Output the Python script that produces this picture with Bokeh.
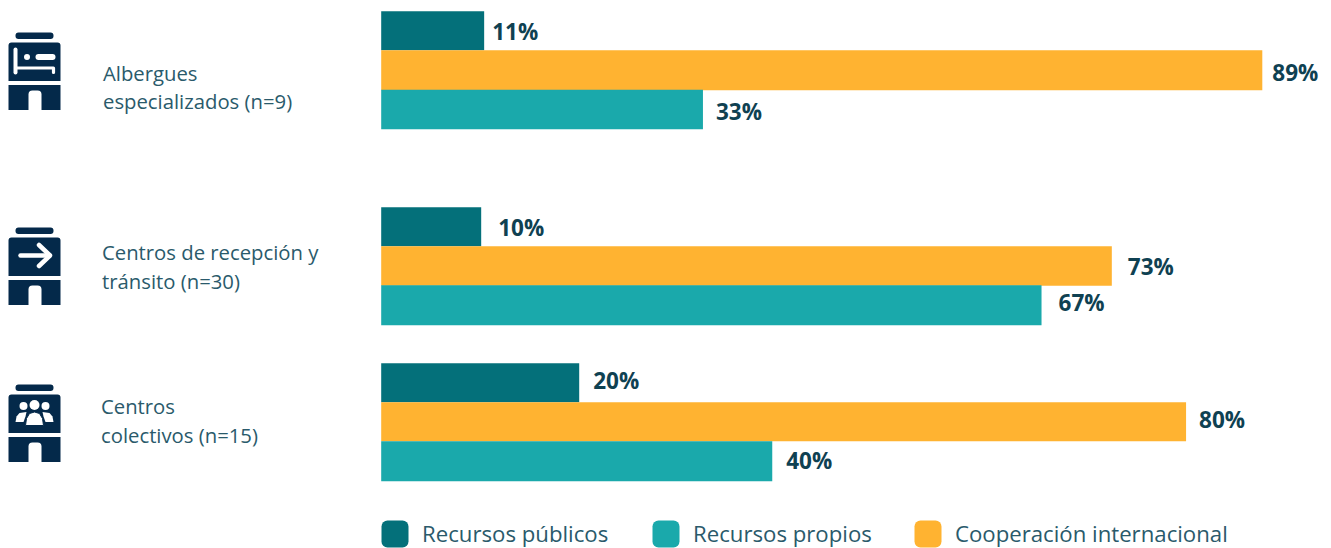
from bokeh.plotting import figure
from bokeh.models import Range1d
from bokeh.core.properties import value
from bokeh.embed import file_html
from bokeh.resources import INLINE

# Data (bar lengths, in percent; printed labels kept separately)
group_lines = [["Albergues", "especializados (n=9)"],
               ["Centros de recepción y", "tránsito (n=30)"],
               ["Centros", "colectivos (n=15)"]]
series_names = ["Recursos públicos", "Recursos propios", "Cooperación internacional"]
publicos = [10.4, 10.1, 20.0]
cooperacion = [89.0, 73.8, 81.3]
propios = [32.5, 66.7, 39.5]
labels_publicos = ["11%", "10%", "20%"]
labels_cooperacion = ["89%", "73%", "80%"]
labels_propios = ["33%", "67%", "40%"]

C_PUB, C_COOP, C_PROP = "#04707a", "#ffb331", "#1aa9ab"
C_ICON = "#04294a"
C_LABEL = "#0f4152"
C_TEXT = "#2a5a6b"
FONT = value("Open Sans")

W, H = 1331, 548
PX = 9.9          # pixels per percent
X0 = 380.7        # page x of 0 %
# y data units are page pixels, x units percent
p = figure(width=W, height=H, output_backend="svg", toolbar_location=None,
           x_range=Range1d((0 - X0) / PX, (W - X0) / PX),
           y_range=Range1d(H, 0), min_border=0,
           background_fill_color="white", border_fill_color="white",
           outline_line_color=None)
p.axis.visible = False
p.grid.visible = False

def px(x):
    return (x - X0) / PX

# ---- bars
tops = [[10.7, 49.8, 89.2], [206.8, 245.8, 284.8], [362.8, 401.8, 440.8]]
bots = [[49.8, 89.8, 128.8], [245.8, 285.3, 324.8], [401.8, 440.8, 480.8]]
label_dx = [[8, 10, 13], [17, 16, 17], [14, 13, 14]]
label_y = [[31, 72, 111], [227, 266, 302], [380, 419, 460]]
series = [(publicos, labels_publicos, C_PUB),
          (cooperacion, labels_cooperacion, C_COOP),
          (propios, labels_propios, C_PROP)]
for s, (vals, labs, col) in enumerate(series):
    p.quad(left=[0] * 3, right=vals,
           top=[tops[g][s] for g in range(3)], bottom=[bots[g][s] for g in range(3)],
           fill_color=col, line_color=None)
    p.text(x=[vals[g] + label_dx[g][s] / PX for g in range(3)],
           y=[label_y[g][s] for g in range(3)], text=labs,
           text_font=FONT, text_font_style="bold", text_font_size="22.5px",
           text_color=C_LABEL, text_align="left", text_baseline="middle")

# ---- group labels
text_pos = [(102.5, [72, 100]), (101.5, [251, 280]), (100.5, [405, 434])]
for lines, (tx, tys) in zip(group_lines, text_pos):
    p.text(x=[px(tx)] * 2, y=tys, text=lines, text_font=FONT, text_font_size="20.3px",
           text_color=C_TEXT, text_align="left", text_baseline="middle")

# ---- legend
leg_sq = [381, 652, 914]
leg_tx = [421.5, 692.5, 954.5]
for name, sx, tx, col in zip(series_names, leg_sq, leg_tx, [C_PUB, C_PROP, C_COOP]):
    p.quad(left=[px(sx)], right=[px(sx + 27)], top=[520], bottom=[547], fill_color=col,
           line_color=None, border_radius=6)
    p.text(x=[px(tx)], y=[533], text=[name], text_font=FONT, text_font_size="22.2px",
           text_color=C_TEXT, text_align="left", text_baseline="middle")

# ---- icons
def building(t):
    """t = top of the pill on the roof, in page pixels"""
    p.quad(left=[px(15)], right=[px(53)], top=[t], bottom=[t + 6.5], fill_color=C_ICON,
           line_color=None, border_radius=3)
    p.quad(left=[px(8)], right=[px(60)], top=[t + 10], bottom=[t + 48.5], fill_color=C_ICON,
           line_color=None, border_radius={"top_left": 3, "top_right": 3, "bottom_right": 0, "bottom_left": 0})
    p.quad(left=[px(8)], right=[px(60)], top=[t + 52.5], bottom=[t + 77.5], fill_color=C_ICON,
           line_color=None)
    p.quad(left=[px(28)], right=[px(41)], top=[t + 58], bottom=[t + 77.5], fill_color="white",
           line_color=None, border_radius={"top_left": 4, "top_right": 4, "bottom_right": 0, "bottom_left": 0})

def white_line(xs, ys, w):
    p.line([px(x) for x in xs], ys, line_color="white", line_width=w, line_cap="round", line_join="round")

# bed
building(32)
white_line([15, 15], [49, 72], 4)
white_line([15, 53, 53], [67.5, 67.5, 72], 3.2)
p.circle(x=[px(26.5)], y=[56.5], radius=3 / PX, fill_color="white", line_color=None)
white_line([38, 52], [56.5, 56.5], 6)

# arrow
building(227)
white_line([20, 49], [255, 255], 4.5)
white_line([38.5, 49.5, 38.5], [244.5, 255, 265.5], 4.5)

# people
building(384)
for cx, cy, r in [(23, 405.5, 4), (45, 405.5, 4), (34, 404.5, 5)]:
    p.circle(x=[px(cx)], y=[cy], radius=r / PX, fill_color="white", line_color=None)
for xs, ys, c in [([15, 16, 19, 26, 25, 23, 15], [421.5, 416, 412.5, 411.5, 416, 421.5, 421.5], "white"),
                  ([53, 52, 49, 42, 43, 45, 53], [421.5, 416, 412.5, 411.5, 416, 421.5, 421.5], "white")]:
    p.patch([px(x) for x in xs], ys, fill_color=c, line_color=None)
p.patch([px(x) for x in [25, 26, 29, 34, 39, 42, 43, 43, 25]],
        [425, 418, 413, 411.5, 413, 418, 425, 425, 425],
        fill_color="white", line_color=C_ICON, line_width=1)

open("out.html", "w").write(file_html(p, INLINE))
